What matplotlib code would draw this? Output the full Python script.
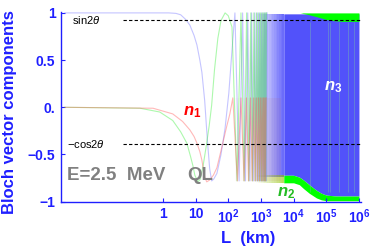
import numpy as np
import matplotlib
matplotlib.use("Agg")
import matplotlib.pyplot as plt

plt.rcParams['font.family'] = ['Liberation Sans', 'DejaVu Sans']
plt.rcParams['mathtext.fontset'] = 'custom'
plt.rcParams['mathtext.rm'] = 'Liberation Sans'
plt.rcParams['mathtext.it'] = 'Liberation Sans:italic'
plt.rcParams['mathtext.bf'] = 'Liberation Sans:bold'
plt.rcParams['mathtext.bfit'] = 'Liberation Sans:italic:bold'

# mixing angle lines
sin2t = 0.92
mcos2t = -0.39

# smooth part of the three components (L in km)
n1_L = [0.001, 0.5, 2, 4, 6.7, 9, 11, 13.5, 15.6, 19, 22, 27, 35, 45, 68, 90, 112, 138]
n1_v = [0, -0.01, -0.07, -0.15, -0.24, -0.31, -0.38, -0.47, -0.56, -0.74, -0.79, -0.77, -0.72, -0.64, -0.38, -0.2, -0.07, 0.1]

n2_L = [0.001, 0.2, 0.8, 2, 3.5, 5.4, 7, 8.3, 9.5, 11.8, 14, 17, 21, 26, 31, 38, 48, 60, 80, 100, 130]
n2_v = [0, -0.01, -0.05, -0.14, -0.26, -0.38, -0.52, -0.62, -0.72, -0.79, -0.76, -0.62, -0.42, -0.2, 0.02, 0.4, 0.73, 0.92, 1.0, 0.97, 0.85]

n3_L = [0.001, 0.5, 1.5, 2.5, 3.5, 5, 6.7, 9, 11, 13.5, 15.6, 19, 23, 27, 31, 36, 45, 60, 80, 104, 130, 160]
n3_v = [1, 1, 1, 0.995, 0.98, 0.93, 0.87, 0.76, 0.66, 0.5, 0.37, 0.07, -0.35, -0.65, -0.78, -0.76, -0.7, -0.5, -0.22, 0.15, 0.6, 1.0]

# fast oscillations: turning points
n1_osc_L = [190, 245, 305, 360, 420, 480, 540, 600, 660, 720, 780, 840, 900, 960, 1020, 1080, 1140, 1200, 1260, 1320, 1380, 1440]
n1_osc_v = [-0.78, 0.1, -0.78, 0.1, -0.78, 0.1, -0.78, 0.1, -0.78, 0.1, -0.78, 0.1, -0.78, 0.1, -0.78, 0.1, -0.78, 0.1, -0.78, 0.1, -0.78, 0.1]

n2_osc_L = [185, 245, 305, 365, 425, 490, 550, 610, 670, 735, 795, 855, 915, 980, 1040, 1100, 1160, 1225, 1285, 1345, 1405, 1470]
n2_osc_v = [-0.78, 1, -0.78, 1, -0.78, 1, -0.78, 1, -0.78, 1, -0.78, 1, -0.78, 1, -0.78, 1, -0.78, 1, -0.78, 1, -0.78, 1]

n3_osc_L = [215, 275, 335, 395, 460, 520, 585, 650, 710, 775, 840, 900, 965, 1030, 1090, 1160, 1220, 1290, 1350, 1420, 1480, 1550]
n3_osc_v = [-0.78, 1, -0.78, 1, -0.78, 1, -0.78, 1, -0.78, 1, -0.78, 1, -0.78, 1, -0.78, 1, -0.78, 1, -0.78, 1, -0.78, 1]

# averaged-out region (L >= 5000 km)
band_L = [5000, 7000, 10000, 15000, 20000, 30000, 50000, 70000, 100000, 200000, 500000, 1000000]
n3_top = [0.99, 0.99, 0.99, 0.99, 0.99, 0.99, 0.99, 0.99, 0.99, 0.99, 0.99, 0.99]
n2_low_top = [-0.72, -0.72, -0.72, -0.74, -0.77, -0.82, -0.88, -0.91, -0.93, -0.94, -0.94, -0.94]
n2_low_bot = [-0.8, -0.8, -0.8, -0.82, -0.86, -0.91, -0.96, -0.98, -0.99, -0.99, -0.99, -0.99]

wedge_L = [16000, 30000, 50000, 100000, 150000, 300000, 1000000]
n2_high_bot = [1.0, 0.98, 0.96, 0.93, 0.92, 0.91, 0.91]

# thin streaks inside the blue band
streak_L = [32000, 110000, 130000, 250000, 450000, 700000]

xticks = [1, 10, 100, 1000, 1e4, 1e5, 1e6]
xlabels = ['1', '10', r'$\mathbf{10^{2}}$', r'$\mathbf{10^{3}}$', r'$\mathbf{10^{4}}$',
           r'$\mathbf{10^{5}}$', r'$\mathbf{10^{6}}$']
yticks = [-1, -0.5, 0, 0.5, 1]
ylabels = ['\u22121', '\u22120.5', '0.', '0.5', '1']

axis_blue = '#1f1fff'
band_blue = '#5252fa'
green = '#00ff00'

fig = plt.figure(figsize=(3.74, 2.49), dpi=100)
ax = fig.add_axes([0.163, 0.19, 0.802, 0.762])
ax.set_xscale('log')

lw = 0.8
ax.plot(n3_L + n3_osc_L, n3_v + n3_osc_v, color='#7f7fff', alpha=0.45, lw=lw)
ax.plot(n2_L + n2_osc_L, n2_v + n2_osc_v, color='#33ee33', alpha=0.4, lw=lw)
ax.plot(n1_L + n1_osc_L, n1_v + n1_osc_v, color='#ff5050', alpha=0.4, lw=lw)

# gradual washing-out of the oscillations
edges = np.logspace(2.85, 3.7, 18)
alphas = np.linspace(0.03, 0.85, 17)
for i in range(17):
    ax.fill_between([edges[i], edges[i + 1]], -0.74, 0.99, color=band_blue, alpha=alphas[i], lw=0)
    ax.fill_between([edges[i], edges[i + 1]], -0.8, -0.72, color='#90c000', alpha=alphas[i] * 0.7, lw=0)
redge = np.logspace(2.2, 3.6, 12)
for i in range(11):
    ax.fill_between([redge[i], redge[i + 1]], -0.78, 0.1, color='#c06060', alpha=0.02 + 0.008 * i, lw=0)

ax.fill_between(band_L, n2_low_top, n3_top, color=band_blue, lw=0)
ax.fill_between(band_L, n2_low_bot, n2_low_top, color=green, lw=0)
ax.fill_between(wedge_L, n2_high_bot, 1.0, color=green, lw=0)
ax.vlines(streak_L, -0.9, 0.9, color='#7fd0a0', lw=0.5, alpha=0.5)

# sin2θ and −cos2θ reference lines
ax.plot([0.06, 1.2e6], [sin2t, sin2t], color='black', ls=(0, (3, 2)), lw=0.8)
ax.plot([0.06, 1.2e6], [mcos2t, mcos2t], color='black', ls=(0, (3, 2)), lw=0.8)

ax.text(10**-2.78, sin2t, r'sin2$\theta$', fontsize=8, ha='left', va='center')
ax.text(10**-2.94, mcos2t, '\u2212cos2$\\theta$', fontsize=8, ha='left', va='center')
ax.text(10**-2.94, -0.72, 'E=2.5  MeV', fontsize=13.5, fontweight='bold', color='#808080',
        ha='left', va='center')
ax.text(13.5, -0.72, 'QL', fontsize=13.5, fontweight='bold', color='#808080', ha='center', va='center')
ax.text(7.7, -0.05, r'$\mathbfit{n}_{\mathbf{1}}$', fontsize=12, color='red', ha='center', va='center')
ax.text(10**3.76, -0.91, r'$\mathbfit{n}_{\mathbf{2}}$', fontsize=12, color='#22bb22', ha='center', va='center')
ax.text(10**5.2, 0.21, r'$\mathbfit{n}_{\mathbf{3}}$', fontsize=12, color='white', ha='center', va='center')

ax.set_xlim(10**-3.12, 10**6.06)
ax.set_ylim(-1, 1.01)
ax.set_xticks(xticks)
ax.set_xticklabels(xlabels)
ax.xaxis.set_minor_locator(matplotlib.ticker.NullLocator())
ax.set_yticks(yticks)
ax.set_yticklabels(ylabels)
ax.tick_params(direction='in', length=3, width=0.8, color=axis_blue, labelcolor=axis_blue,
               labelsize=10, pad=4)
for lab in ax.get_xticklabels() + ax.get_yticklabels():
    lab.set_fontweight('bold')

for s in ['top', 'right']:
    ax.spines[s].set_visible(False)
for s in ['left', 'bottom']:
    ax.spines[s].set_color(axis_blue)
    ax.spines[s].set_linewidth(1.0)

fig.text(248 / 374, 1 - 238 / 249, 'L  (km)', fontsize=12, fontweight='bold', color=axis_blue,
         ha='center', va='center')
fig.text(10 / 374, 1 - 112 / 249, 'Bloch vector components', fontsize=12, fontweight='bold',
         color=axis_blue, rotation=90, ha='center', va='center')

fig.savefig('out.png', dpi=100)
